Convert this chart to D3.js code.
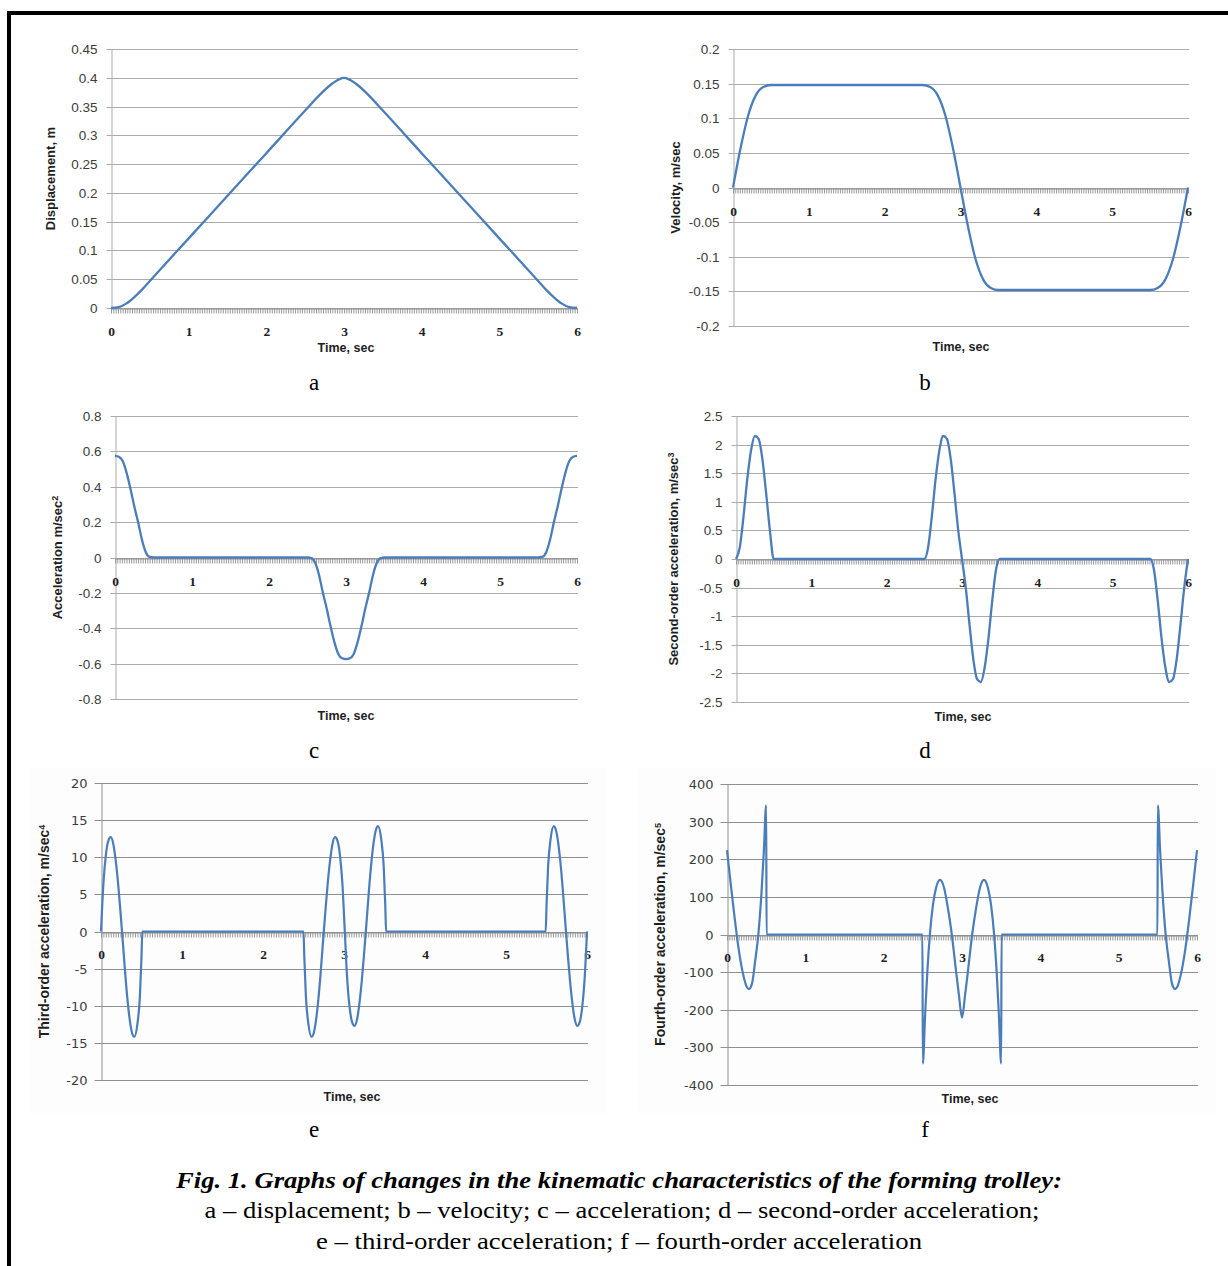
<!DOCTYPE html>
<html>
<head>
<meta charset="utf-8">
<script src="https://cdn.jsdelivr.net/npm/d3@7"></script>
<style>
  body { margin: 0; background: #fff; }
  svg { display: block; }
</style>
</head>
<body>
<script>
/*
*    kinematic characteristics of the forming trolley, 6 panels
*/

// shared x axis
const timeTicks = [0, 1, 2, 3, 4, 5, 6];
const hatchStep = 0.03;

// a - displacement
const dispTime = [0, 0.1, 0.2, 0.3, 0.4, 0.5, 1, 1.5, 2, 2.5, 2.7, 2.85, 3, 3.15, 3.3, 3.5, 4, 4.5, 5, 5.5, 5.6, 5.7, 5.8, 5.9, 6];
const dispVal = [0, 0.0015, 0.008, 0.019, 0.032, 0.047, 0.121, 0.195, 0.269, 0.343, 0.372, 0.39, 0.4, 0.39, 0.372, 0.343, 0.269, 0.195, 0.121, 0.047, 0.032, 0.019, 0.008, 0.0015, 0];
const dispTicks = [0, 0.05, 0.1, 0.15, 0.2, 0.25, 0.3, 0.35, 0.4, 0.45];

// b - velocity
const velTime = [0, 0.1, 0.2, 0.3, 0.4, 0.5, 2.5, 2.6, 2.7, 2.8, 2.9, 3, 3.1, 3.2, 3.3, 3.4, 3.5, 5.5, 5.6, 5.7, 5.8, 5.9, 6];
const velVal = [0, 0.057, 0.104, 0.133, 0.145, 0.148, 0.148, 0.145, 0.133, 0.104, 0.057, 0, -0.057, -0.104, -0.133, -0.145, -0.148, -0.148, -0.145, -0.133, -0.104, -0.057, 0];
const velTicks = [-0.2, -0.15, -0.1, -0.05, 0, 0.05, 0.1, 0.15, 0.2];

// c - acceleration
const accTime = [0, 0.05, 0.1, 0.15, 0.2, 0.25, 0.3, 0.35, 0.4, 0.45, 0.5,
  2.5, 2.55, 2.6, 2.65, 2.7, 2.75, 2.8, 2.85, 2.9, 2.95, 3, 3.05, 3.1, 3.15, 3.2, 3.25, 3.3, 3.35, 3.4, 3.45, 3.5,
  5.5, 5.55, 5.6, 5.65, 5.7, 5.75, 5.8, 5.85, 5.9, 5.95, 6];
const accVal = [0.575, 0.57, 0.545, 0.48, 0.39, 0.29, 0.2, 0.1, 0.03, 0.003, 0,
  0, -0.003, -0.03, -0.1, -0.2, -0.29, -0.39, -0.48, -0.545, -0.57, -0.575, -0.57, -0.545, -0.48, -0.39, -0.29, -0.2, -0.1, -0.03, -0.003, 0,
  0, 0.003, 0.03, 0.1, 0.2, 0.29, 0.39, 0.48, 0.545, 0.57, 0.575];
const accTicks = [-0.8, -0.6, -0.4, -0.2, 0, 0.2, 0.4, 0.6, 0.8];

// d - second-order acceleration
const jerkTime = [0, 0.05, 0.1, 0.15, 0.2, 0.25, 0.3, 0.35, 0.4, 0.45, 0.5,
  2.5, 2.55, 2.6, 2.65, 2.7, 2.75, 2.8, 2.85, 2.9, 2.95, 3, 3.05, 3.1, 3.15, 3.2, 3.25, 3.3, 3.35, 3.4, 3.45, 3.5,
  5.5, 5.55, 5.6, 5.65, 5.7, 5.75, 5.8, 5.85, 5.9, 5.95, 6];
const jerkVal = [0, 0.2, 0.75, 1.4, 1.9, 2.15, 2.1, 1.75, 1.15, 0.5, 0,
  0, 0.2, 0.75, 1.4, 1.9, 2.15, 2.1, 1.75, 1.15, 0.5, 0, -0.5, -1.15, -1.75, -2.1, -2.15, -1.9, -1.4, -0.75, -0.2, 0,
  0, -0.2, -0.75, -1.4, -1.9, -2.15, -2.1, -1.75, -1.15, -0.5, 0];
const jerkTicks = [-2.5, -2, -1.5, -1, -0.5, 0, 0.5, 1, 1.5, 2, 2.5];

// e - third-order acceleration
const snapTime = [0, 0.03, 0.06, 0.09, 0.12, 0.15, 0.18, 0.21, 0.24, 0.27, 0.3, 0.33, 0.36, 0.39, 0.41, 0.45, 0.48, 0.5, 0.51,
  2.5, 2.51, 2.53, 2.56, 2.6, 2.62, 2.65, 2.68, 2.71, 2.74, 2.77, 2.8, 2.83, 2.86, 2.89, 2.92, 2.95, 2.98, 3.01,
  3.04, 3.07, 3.1, 3.13, 3.16, 3.19, 3.22, 3.25, 3.28, 3.31, 3.34, 3.37, 3.4, 3.42, 3.46, 3.49, 3.51, 3.52,
  5.49, 5.5, 5.52, 5.55, 5.59, 5.61, 5.64, 5.67, 5.7, 5.73, 5.76, 5.79, 5.82, 5.85, 5.88, 5.91, 5.94, 5.97, 6];
const snapVal = [0, 6.5, 10.3, 12.2, 12.7, 11.9, 9.7, 6.6, 2.7, -1.5, -5.8, -9.5, -12.3, -13.9, -14.2, -12.4, -8.8, -3.4, 0,
  0, -3.4, -8.8, -12.4, -14.2, -13.9, -12.3, -9.5, -5.8, -1.5, 2.7, 6.6, 9.7, 11.9, 12.7, 12.2, 10.3, 6.5, 0,
  -6.5, -10.3, -12.2, -12.7, -11.9, -9.7, -6.6, -2.7, 1.5, 5.8, 9.5, 12.3, 13.9, 14.2, 12.4, 8.8, 3.4, 0,
  0, 3.4, 8.8, 12.4, 14.2, 13.9, 12.3, 9.5, 5.8, 1.5, -2.7, -6.6, -9.7, -11.9, -12.7, -12.2, -10.3, -6.5, 0];
const snapTicks = [-20, -15, -10, -5, 0, 5, 10, 15, 20];

// f - fourth-order acceleration
const crackleTime = [0, 0.05, 0.1, 0.15, 0.2, 0.25, 0.28, 0.32, 0.36, 0.4, 0.44, 0.47, 0.5, 0.505,
  2.495, 2.5, 2.53, 2.56, 2.59, 2.63, 2.67, 2.72, 2.77, 2.82, 2.87, 2.92, 2.96, 3, 3.04, 3.08, 3.13, 3.18, 3.23, 3.28, 3.33, 3.37, 3.41, 3.44, 3.47, 3.5, 3.505,
  5.495, 5.5, 5.53, 5.56, 5.6, 5.64, 5.68, 5.72, 5.75, 5.8, 5.85, 5.9, 5.95, 6];
const crackleVal = [224, 130, 40, -40, -100, -138, -145, -130, -70, 0, 110, 220, 343, 0,
  0, -343, -210, -90, 0, 80, 125, 145, 125, 70, 0, -90, -160, -221, -160, -90, 0, 70, 125, 145, 125, 80, 0, -90, -210, -343, 0,
  0, 343, 220, 110, 0, -70, -130, -145, -138, -100, -40, 40, 130, 224];
const crackleTicks = [-400, -300, -200, -100, 0, 100, 200, 300, 400];

const lineColor = "#4a7dba";

const svg = d3.select("body")
  .append("svg")
    .attr("width", 1228)
    .attr("height", 1266);

svg.append("rect").attr("width", 1228).attr("height", 1266).attr("fill", "#fff");

// black frame, top and left
svg.append("rect").attr("x", 7).attr("y", 11).attr("width", 1221).attr("height", 4).attr("fill", "#000");
svg.append("rect").attr("x", 7).attr("y", 11).attr("width", 4).attr("height", 1255).attr("fill", "#000");

const panels = [
  {t: dispTime, v: dispVal, ticks: dispTicks, x0: 111, x1: 577, yTop: 49, yBot: 308,
   label: [["Displacement, m"]], lx: 50, letter: "a", lettX: 314, lettY: 390, titleX: 346, titleY: 352, style: "old"},
  {t: velTime, v: velVal, ticks: velTicks, x0: 733, x1: 1188, yTop: 49, yBot: 326,
   label: [["Velocity, m/sec"]], lx: 675, letter: "b", lettX: 925, lettY: 390, titleX: 961, titleY: 351, style: "old"},
  {t: accTime, v: accVal, ticks: accTicks, x0: 115, x1: 577, yTop: 416, yBot: 699,
   label: [["Acceleration m/sec"], ["2", true]], lx: 57, letter: "c", lettX: 314, lettY: 758, titleX: 346, titleY: 720, style: "old"},
  {t: jerkTime, v: jerkVal, ticks: jerkTicks, x0: 736, x1: 1188, yTop: 416, yBot: 702,
   label: [["Second-order acceleration, m/sec"], ["3", true]], lx: 673, letter: "d", lettX: 925, lettY: 758, titleX: 963, titleY: 721, style: "old"},
  {t: snapTime, v: snapVal, ticks: snapTicks, x0: 101, x1: 587, yTop: 783, yBot: 1080,
   label: [["Third-order acceleration, m/sec"], ["4", true]], lx: 44, letter: "e", lettX: 314, lettY: 1137, titleX: 352, titleY: 1101, style: "new",
   bg: [30, 768, 577, 345]},
  {t: crackleTime, v: crackleVal, ticks: crackleTicks, x0: 727, x1: 1197, yTop: 784, yBot: 1085,
   label: [["Fourth-order acceleration, m/sec"], ["5", true]], lx: 660, letter: "f", lettX: 925, lettY: 1137, titleX: 970, titleY: 1103, style: "new",
   bg: [637, 768, 579, 345]}
];

panels.forEach(p => drawPanel(p));

function drawPanel(p) {
  const isNew = p.style === "new";
  const gridColor = isNew ? "#8f8f8f" : "#ababab";
  const g = svg.append("g");

  if (p.bg) {
    g.append("rect")
      .attr("x", p.bg[0]).attr("y", p.bg[1])
      .attr("width", p.bg[2]).attr("height", p.bg[3])
      .attr("fill", "#fdfdfd");
  }

  const x = d3.scaleLinear()
    .domain([0, 6])
    .range([p.x0, p.x1]);

  const y = d3.scaleLinear()
    .domain([p.ticks[0], p.ticks[p.ticks.length - 1]])
    .range([p.yBot, p.yTop]);

  // horizontal gridlines
  g.append("g")
    .selectAll("line")
    .data(p.ticks)
    .join("line")
      .attr("x1", p.x0)
      .attr("x2", p.x1 + 1)
      .attr("y1", d => Math.round(y(d)) + 0.5)
      .attr("y2", d => Math.round(y(d)) + 0.5)
      .attr("stroke", gridColor)
      .attr("stroke-width", 1);

  // y axis with labels
  const leftAxis = d3.axisLeft(y)
    .tickValues(p.ticks)
    .tickSize(isNew ? 7 : 5)
    .tickSizeOuter(0)
    .tickPadding(isNew ? 7 : 9)
    .tickFormat(d => String(d));

  const ya = g.append("g")
    .attr("class", "left axis")
    .attr("transform", "translate(" + (Math.round(p.x0) + 0.5) + ",0)")
    .call(leftAxis);
  ya.select(".domain").attr("stroke", gridColor);
  ya.selectAll(".tick line").attr("stroke", gridColor);
  ya.selectAll(".tick").attr("transform", d => "translate(0," + (Math.round(y(d)) + 0.5) + ")");
  ya.selectAll("text")
    .attr("fill", "#3c3c3c")
    .style("font-family", isNew ? "'DejaVu Sans', sans-serif" : "'Liberation Sans', Arial, sans-serif")
    .style("font-size", isNew ? "13px" : "13.5px");

  // dense category ticks along the zero line
  const zeroY = Math.round(y(0)) + 0.5;
  const hatch = g.append("g")
    .attr("transform", "translate(0," + zeroY + ")")
    .call(d3.axisBottom(x)
      .tickValues(d3.range(0, 6 + 1e-9, hatchStep))
      .tickSize(5)
      .tickSizeOuter(0)
      .tickFormat(""));
  hatch.select(".domain").attr("stroke", "#8a8a8a");
  hatch.selectAll(".tick line").attr("stroke", "#999");

  // time tick labels
  const bottomAxis = g.append("g")
    .attr("transform", "translate(0," + zeroY + ")")
    .call(d3.axisBottom(x)
      .tickValues(timeTicks)
      .tickSize(0)
      .tickPadding(isNew ? 17 : 18)
      .tickFormat(d => String(d)));
  bottomAxis.select(".domain").remove();
  bottomAxis.selectAll("text")
    .attr("fill", "#1e1e1e")
    .style("font-family", "'Liberation Serif', 'Times New Roman', serif")
    .style("font-weight", "bold")
    .style("font-size", "13.5px");

  // the curve
  const line = d3.line()
    .x(d => x(d[0]))
    .y(d => y(d[1]))
    .curve(d3.curveMonotoneX);

  g.append("path")
    .datum(d3.zip(p.t, p.v))
    .attr("d", line)
    .attr("fill", "none")
    .attr("stroke", lineColor)
    .attr("stroke-width", isNew ? 2.2 : 2.3)
    .attr("stroke-linejoin", "round");

  // axis titles
  g.append("text")
    .attr("x", p.titleX)
    .attr("y", p.titleY)
    .attr("text-anchor", "middle")
    .attr("fill", "#1e1e1e")
    .style("font-family", "'Liberation Sans', Arial, sans-serif")
    .style("font-weight", "bold")
    .style("font-size", "12.5px")
    .text("Time, sec");

  const yl = g.append("text")
    .attr("transform", "translate(" + p.lx + "," + ((p.yTop + p.yBot) / 2) + ") rotate(-90)")
    .attr("text-anchor", "middle")
    .attr("dy", "0.35em")
    .attr("fill", "#1e1e1e")
    .style("font-family", "'Liberation Sans', Arial, sans-serif")
    .style("font-weight", "bold")
    .style("font-size", isNew ? "14px" : "13px");
  p.label.forEach(part => {
    const ts = yl.append("tspan").text(part[0]);
    if (part[1]) ts.attr("dy", "-0.45em").style("font-size", "9px");
  });

  // panel letter
  svg.append("text")
    .attr("x", p.lettX)
    .attr("y", p.lettY)
    .attr("text-anchor", "middle")
    .attr("fill", "#000")
    .style("font-family", "'Liberation Serif', 'Times New Roman', serif")
    .style("font-size", "23px")
    .text(p.letter);
}

// caption
const caption = [
  {text: "Fig. 1. Graphs of changes in the kinematic characteristics of the forming trolley:", y: 1188, cx: 619, w: 886, bold: true},
  {text: "a \u2013 displacement; b \u2013 velocity; c \u2013 acceleration; d \u2013 second-order acceleration;", y: 1218, cx: 622, w: 835, bold: false},
  {text: "e \u2013 third-order acceleration; f \u2013 fourth-order acceleration", y: 1249, cx: 619, w: 606, bold: false}
];

svg.selectAll("text.caption")
  .data(caption)
  .join("text")
    .attr("class", "caption")
    .attr("x", d => d.cx)
    .attr("y", d => d.y)
    .attr("text-anchor", "middle")
    .attr("textLength", d => d.w)
    .attr("lengthAdjust", "spacingAndGlyphs")
    .attr("fill", "#000")
    .style("font-family", "'Liberation Serif', 'Times New Roman', serif")
    .style("font-size", "24px")
    .style("font-weight", d => d.bold ? "bold" : "normal")
    .style("font-style", d => d.bold ? "italic" : "normal")
    .text(d => d.text);
</script>
</body>
</html>
